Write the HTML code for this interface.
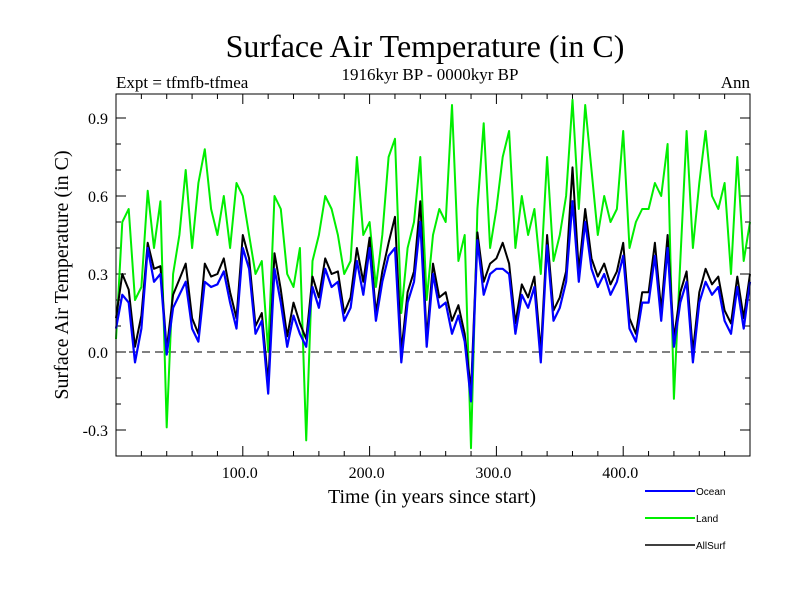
<!DOCTYPE html>
<html><head><meta charset="utf-8"><style>
body{margin:0;background:#fff}
svg text{font-family:"Liberation Serif",serif;fill:#000}
</style></head><body>
<svg id="chart" width="800" height="600" xmlns="http://www.w3.org/2000/svg">
<rect width="800" height="600" fill="#fff"/>
<text x="425" y="57" font-size="32" text-anchor="middle">Surface Air Temperature (in C)</text>
<text x="430" y="80" font-size="17" text-anchor="middle">1916kyr BP - 0000kyr BP</text>
<text x="116" y="88" font-size="17">Expt = tfmfb-tfmea</text>
<text x="750" y="88" font-size="17" text-anchor="end">Ann</text>
<text transform="translate(68,275) rotate(-90)" font-size="20" text-anchor="middle">Surface Air Temperature (in C)</text>
<text x="432" y="503" font-size="20" text-anchor="middle">Time (in years since start)</text>
<g id="ticks"></g>
<g id="series"></g>
<rect x="116" y="94" width="634" height="362" fill="none" stroke="#000" stroke-width="1"/>
<g font-family="Liberation Sans" font-size="10">
<line x1="645" y1="491" x2="695" y2="491" stroke="#0000ff" stroke-width="2"/>
<text x="696" y="495" style="font-family:'Liberation Sans',sans-serif;font-size:10px">Ocean</text>
<line x1="645" y1="518" x2="695" y2="518" stroke="#00ee00" stroke-width="2"/>
<text x="696" y="522" style="font-family:'Liberation Sans',sans-serif;font-size:10px">Land</text>
<line x1="645" y1="545" x2="695" y2="545" stroke="#000" stroke-width="1.5"/>
<text x="696" y="549" style="font-family:'Liberation Sans',sans-serif;font-size:10px">AllSurf</text>
</g>
</svg>
<script>
const years = [];
for (let y = 0; y <= 500; y += 5) years.push(y);
const oceanValues = [0.09,0.22,0.19,-0.04,0.09,0.40,0.27,0.30,-0.01,0.17,0.22,0.27,0.09,0.04,0.27,0.25,0.26,0.31,0.19,0.09,0.40,0.32,0.07,0.12,-0.16,0.32,0.19,0.02,0.14,0.07,0.02,0.25,0.17,0.32,
0.25,0.27,0.12,0.17,0.35,0.22,0.40,0.12,0.27,0.37,0.40,-0.04,0.19,0.27,0.50,0.02,0.30,0.17,0.19,0.07,0.14,0.04,-0.19,0.43,0.22,0.30,0.32,0.32,0.30,0.07,0.22,0.17,0.25,
-0.04,0.41,0.12,0.17,0.27,0.58,0.27,0.50,0.32,0.25,0.30,0.22,0.27,0.37,0.09,0.04,0.19,0.19,0.37,0.12,0.40,0.02,0.19,0.27,-0.04,0.19,0.27,0.22,0.25,0.12,0.07,0.25,0.09,0.27];
const landValues = [0.05,0.50,0.55,0.20,0.25,0.62,0.40,0.58,-0.29,0.30,0.45,0.70,0.40,0.65,0.78,0.55,0.45,0.60,0.40,0.65,0.60,0.45,0.30,0.35,0.00,0.60,0.55,0.30,0.25,0.40,-0.34,0.35,0.45,0.60,
0.55,0.45,0.30,0.35,0.75,0.45,0.50,0.25,0.45,0.75,0.82,0.15,0.40,0.50,0.75,0.20,0.45,0.55,0.50,0.95,0.35,0.45,-0.37,0.55,0.88,0.40,0.55,0.75,0.85,0.40,0.60,0.45,0.55,
0.30,0.75,0.35,0.45,0.60,0.97,0.55,0.95,0.70,0.45,0.60,0.50,0.55,0.85,0.40,0.50,0.55,0.55,0.65,0.60,0.80,-0.18,0.35,0.85,0.40,0.65,0.85,0.60,0.55,0.65,0.30,0.75,0.35,0.50];
const allSurfValues = [0.13,0.30,0.24,0.02,0.14,0.42,0.32,0.33,0.01,0.22,0.28,0.34,0.13,0.07,0.34,0.29,0.30,0.36,0.23,0.13,0.45,0.36,0.10,0.15,-0.12,0.38,0.24,0.06,0.19,0.11,0.05,0.29,0.21,0.36,
0.30,0.31,0.15,0.21,0.40,0.27,0.44,0.15,0.31,0.42,0.52,0.00,0.23,0.31,0.58,0.05,0.34,0.21,0.23,0.12,0.18,0.07,-0.15,0.46,0.27,0.34,0.36,0.42,0.34,0.11,0.26,0.21,0.29,
0.00,0.45,0.16,0.21,0.31,0.71,0.31,0.55,0.36,0.29,0.34,0.26,0.31,0.42,0.13,0.07,0.23,0.23,0.42,0.16,0.45,0.05,0.23,0.31,0.00,0.23,0.32,0.26,0.29,0.16,0.11,0.29,0.13,0.30];
const yTickLabels = ["-0.3","0.0","0.3","0.6","0.9"];
const xTickLabels = ["100.0","200.0","300.0","400.0"];

const NS = "http://www.w3.org/2000/svg";
const L = 116, R = 750, T = 94, B = 456;
function xs(v){ return L + (v / 500) * (R - L); }
function ys(v){ return 352 - v * 260; }
function mk(tag, attrs, parent){
  const e = document.createElementNS(NS, tag);
  for (const k in attrs) e.setAttribute(k, attrs[k]);
  parent.appendChild(e);
  return e;
}
const tg = document.getElementById('ticks');
// zero dashed line
const z = mk('line', {x1:L, x2:R, y1:ys(0), y2:ys(0), stroke:'#000', 'stroke-dasharray':'8,5', 'stroke-width':1}, tg);


// y ticks
for (let i = -3; i <= 9; i++) {
  const v = i / 10, yy = ys(v), major = (i % 3 === 0), len = major ? 10 : 5;
  const t1 = mk('line', {x1:L, x2:L+len, y1:yy, y2:yy, stroke:'#000'}, tg);
  
  
  const t2 = mk('line', {x1:R-len, x2:R, y1:yy, y2:yy, stroke:'#000'}, tg);
  
  
}
yTickLabels.forEach(s => {
  const t = mk('text', {x:L-8, y:ys(parseFloat(s))+6, 'font-size':16, 'text-anchor':'end'}, tg);
  t.textContent = s;
  
  
});
// x ticks
for (let v = 0; v <= 500; v += 20) {
  const xx = xs(v), major = (v % 100 === 0), len = major ? 10 : 5;
  const t1 = mk('line', {x1:xx, x2:xx, y1:B, y2:B-len, stroke:'#000'}, tg);
  
  
  const t2 = mk('line', {x1:xx, x2:xx, y1:T, y2:T+len, stroke:'#000'}, tg);
  
  
}
xTickLabels.forEach(s => {
  const t = mk('text', {x:xs(parseFloat(s))-3, y:478, 'font-size':16, 'text-anchor':'middle'}, tg);
  t.textContent = s;
  
  
});
// series
const sg = document.getElementById('series');
function line(vals, color, w, name){
  const d = vals.map((v, i) => (i ? 'L' : 'M') + xs(years[i]).toFixed(1) + ',' + ys(v).toFixed(1)).join('');
  const p = mk('path', {d:d, fill:'none', stroke:color, 'stroke-width':w, 'stroke-linejoin':'round'}, sg);
  
  
}
line(landValues, '#00ee00', 2, 'land-series');
line(allSurfValues, '#000000', 2, 'allsurf-series');
line(oceanValues, '#0000ff', 2.2, 'ocean-series');
</script>
</body></html>
